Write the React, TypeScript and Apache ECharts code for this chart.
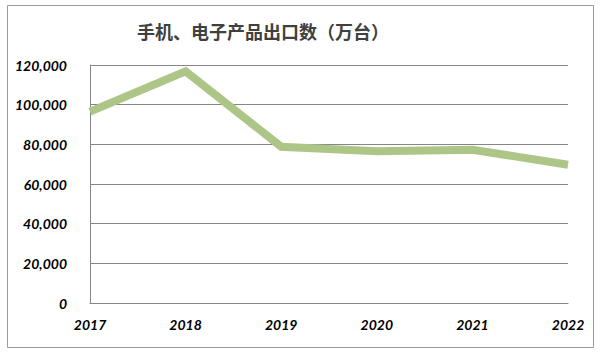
import React, { useEffect, useRef } from "react";
import * as echarts from "echarts";

const years = ["2017", "2018", "2019", "2020", "2021", "2022"];
const exports = [96500, 116800, 78800, 76500, 77300, 69700];
const yTicks = { min: 0, max: 120000, interval: 20000 };
const title = "手机、电子产品出口数（万台）";

export default function App() {
  const ref = useRef<HTMLDivElement>(null);
  useEffect(() => {
    const chart = echarts.init(ref.current!, null, { renderer: "svg" });
    chart.setOption({
      animation: false,
      backgroundColor: "#ffffff",
      title: {
        text: title,
        left: 258,
        top: 17,
        textAlign: "center",
        textStyle: {
          fontFamily: "Noto Sans CJK SC",
          fontSize: 18,
          fontWeight: "bold",
          color: "#404040",
        },
      },
      graphic: [
        {
          type: "rect",
          shape: { x: 7.5, y: 5.5, width: 586, height: 342 },
          style: { fill: "none", stroke: "#9a9a9a", lineWidth: 1 },
          silent: true,
        },
      ],
      grid: { left: 90, right: 32, top: 65, bottom: 49 },
      xAxis: {
        type: "category",
        data: years,
        boundaryGap: false,
        axisLine: { lineStyle: { color: "#868686", width: 1 } },
        axisTick: { show: false },
        axisLabel: {
          margin: 14,
          fontFamily: "Lato",
          fontStyle: "italic",
          fontWeight: "bold",
          fontSize: 14,
          color: "#000",
        },
      },
      yAxis: {
        type: "value",
        min: yTicks.min,
        max: yTicks.max,
        interval: yTicks.interval,
        axisLine: { show: true, lineStyle: { color: "#868686", width: 1 } },
        axisTick: { show: false },
        splitLine: { lineStyle: { color: "#868686", width: 1 } },
        axisLabel: {
          margin: 23,
          fontFamily: "Lato",
          fontStyle: "italic",
          fontWeight: "bold",
          fontSize: 14,
          color: "#000",
          formatter: (v: number) => v.toLocaleString("en-US"),
        },
      },
      series: [
        {
          type: "line",
          data: exports,
          symbol: "none",
          lineStyle: { color: "#adc687", width: 8, join: "miter" },
        },
      ],
    });
    return () => chart.dispose();
  }, []);
  return (
    <div
      ref={ref}
      style={{ position: "fixed", left: 0, top: 0, width: 600, height: 352 }}
    />
  );
}
